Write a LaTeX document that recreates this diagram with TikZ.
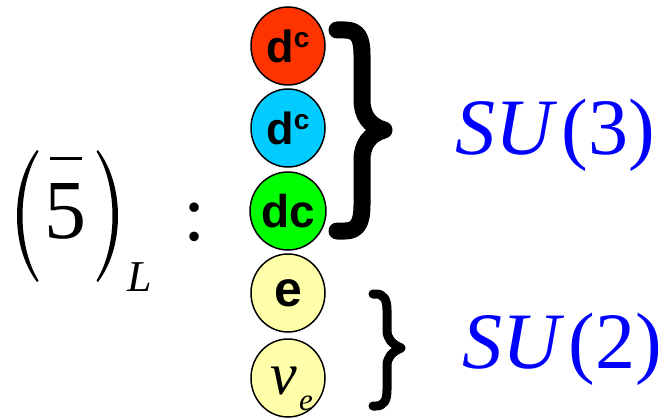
\documentclass[tikz,border=0pt]{standalone}
\usepackage{fontspec}
\setmainfont{Liberation Serif}
\setsansfont{Liberation Sans}
\usetikzlibrary{shapes.geometric}
\definecolor{cred}{HTML}{FF3300}
\definecolor{ccyan}{HTML}{00CCFF}
\definecolor{cgreen}{HTML}{00FF00}
\definecolor{cyel}{HTML}{FFFFAA}
\definecolor{cblue}{HTML}{0000FF}
\begin{document}
\begin{tikzpicture}[x=1pt,y=-1pt,
  ball/.style={ellipse,draw=black,line width=1.5pt,minimum width=74pt,minimum height=78pt,inner sep=0pt},
  balltext/.style={font=\fontsize{45}{45}\sffamily\bfseries},
  glyph/.style={inner sep=0pt,outer sep=0pt},
  bracestroke/.style={draw=black,line cap=round,line join=round},
  grp/.style={text=cblue,font=\fontsize{80}{80}\selectfont,inner sep=0pt}]
\useasboundingbox (0,0) rectangle (670,420);
% balls
\node[ball,fill=cred,balltext] (d1) at (288,46) {d\raisebox{15pt}{\fontsize{28}{28}\selectfont c}};
\node[ball,fill=ccyan,balltext] (d2) at (288,128) {d\raisebox{15pt}{\fontsize{28}{28}\selectfont c}};
\node[ball,fill=cgreen,balltext,font=\fontsize{46}{46}\sffamily\bfseries] (d3) at (288,211) {dc};
\node[ball,fill=cyel,balltext,font=\fontsize{50}{50}\sffamily\bfseries] (e) at (288,293) {e};
\node[ball,fill=cyel] (nu) at (288,378) {};
\node[glyph,font=\fontsize{60}{60}\selectfont\itshape] (nuv) at (284,381) {ν};
\node[glyph,font=\fontsize{31}{31}\selectfont\itshape] (nue) at (306,403) {e};
% big brace
\draw[bracestroke,line width=17pt] (337,30) -- (345,30)
  .. controls (358,30) and (362,38) .. (362,55) -- (362,100)
  .. controls (362,116) and (370,126) .. (384,130)
  .. controls (370,134) and (362,144) .. (362,160) -- (362,205)
  .. controls (362,222) and (358,231) .. (345,231) -- (337,231);
% small brace
\draw[bracestroke,line width=9pt] (373,294) -- (376,294)
  .. controls (384,294) and (387,300) .. (387,310) -- (387,330)
  .. controls (387,339) and (392,344) .. (401,348)
  .. controls (392,352) and (387,357) .. (387,366) -- (387,390)
  .. controls (387,400) and (384,406) .. (376,406) -- (373,406);
% group labels
\node[grp] (su3) at (555,135) {\textit{SU}\kern4pt(3)};
\node[grp] (su2) at (562,349) {\textit{SU}\kern4pt(2)};
% left representation
\fill (37,150) .. controls (22,170) and (17,195) .. (17,216)
  .. controls (17,237) and (22,262) .. (37,282)
  -- (38.5,280.5) .. controls (27,262) and (22.5,237) .. (22.5,216)
  .. controls (22.5,195) and (27,170) .. (38.5,151.5) -- cycle;
\fill (98,150) .. controls (113,170) and (118,195) .. (118,216)
  .. controls (118,237) and (113,262) .. (98,282)
  -- (96.5,280.5) .. controls (108,262) and (112.5,237) .. (112.5,216)
  .. controls (112.5,195) and (108,170) .. (96.5,151.5) -- cycle;
\node[glyph,font=\fontsize{84}{84}\selectfont] (five) at (66,211) {5};
\draw[line width=3pt] (50,158) -- (82,158);
\node[glyph,font=\fontsize{44}{44}\selectfont\itshape] (L) at (140,277) {L};
\node[glyph,font=\fontsize{80}{80}\selectfont] (colon) at (195,222) {:};
\end{tikzpicture}
\end{document}
